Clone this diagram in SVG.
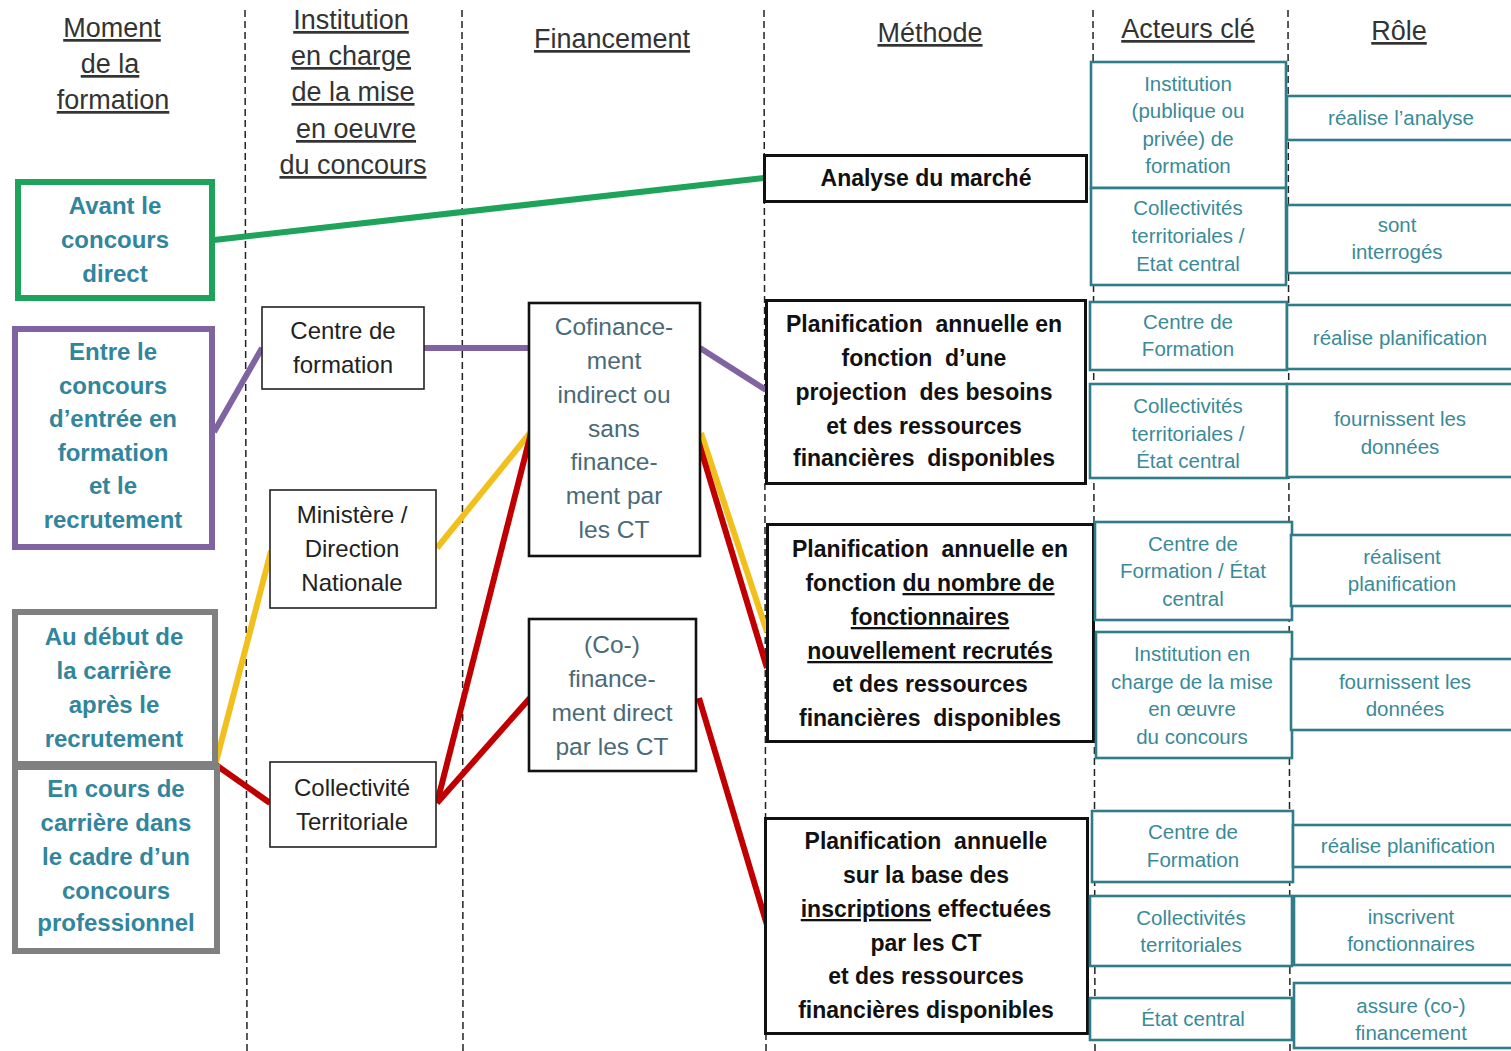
<svg xmlns="http://www.w3.org/2000/svg" width="1511" height="1051" viewBox="0 0 1511 1051">
<style>
text{font-family:"Liberation Sans",Arial,sans-serif;text-anchor:middle}
.hd{font-size:27px;fill:#333;text-decoration:underline}
.lt{font-size:24px;font-weight:bold;fill:#31859c}
.ib{font-size:24px;fill:#222}
.fb{font-size:24.5px;fill:#4a6a78}
.mb{font-size:23px;font-weight:bold;fill:#111}
.ac{font-size:20.5px;fill:#3a8a98}
.u{text-decoration:underline}
.col{stroke:#222;stroke-width:1.5;stroke-dasharray:7 4;fill:none}
.bx{fill:#fff;stroke:#222;stroke-width:1.6}
.fbx{fill:#fff;stroke:#111;stroke-width:2.6}
.mbx{fill:#fff;stroke:#111;stroke-width:3}
.abx{fill:#fff;stroke:#2e7d89;stroke-width:2.6}
.cn{fill:none;stroke-width:6;stroke-linecap:butt}
</style>
<rect width="1511" height="1051" fill="#fff"/>
<g id="columns">
<line class="col" x1="245" y1="10" x2="247" y2="1051"/>
<line class="col" x1="462" y1="10" x2="463" y2="1051"/>
<line class="col" x1="764" y1="10" x2="766" y2="1051"/>
<line class="col" x1="1093" y1="10" x2="1095" y2="1051"/>
<line class="col" x1="1288" y1="10" x2="1290" y2="1051"/>
</g>
<g id="headers">
<text class="hd" x="112" y="37">Moment</text>
<text class="hd" x="110" y="73">de la</text>
<text class="hd" x="113" y="109">formation</text>
<text class="hd" x="351" y="29">Institution</text>
<text class="hd" x="351" y="65">en charge</text>
<text class="hd" x="353" y="101">de la mise</text>
<text class="hd" x="356" y="138">en oeuvre</text>
<text class="hd" x="353" y="174">du concours</text>
<text class="hd" x="612" y="48">Financement</text>
<text class="hd" x="930" y="42">Méthode</text>
<text class="hd" x="1188" y="38">Acteurs clé</text>
<text class="hd" x="1399" y="40">Rôle</text>
</g>
<g id="connectors">
<line class="cn" stroke="#1ea35a" x1="214" y1="240" x2="764" y2="178"/>
<line class="cn" stroke="#8064a2" x1="214" y1="432" x2="262" y2="348"/>
<line class="cn" stroke="#8064a2" x1="424" y1="348" x2="529" y2="348"/>
<line class="cn" stroke="#8064a2" x1="700" y1="348" x2="766" y2="390"/>
<line class="cn" stroke="#f2c01c" x1="216" y1="762" x2="271" y2="551"/>
<line class="cn" stroke="#f2c01c" x1="437" y1="548" x2="530" y2="433"/>
<line class="cn" stroke="#f2c01c" x1="701" y1="433" x2="767" y2="632"/>
<line class="cn" stroke="#c00000" x1="216" y1="765" x2="270" y2="803"/>
<line class="cn" stroke="#c00000" x1="437" y1="803" x2="531" y2="433"/>
<line class="cn" stroke="#c00000" x1="437" y1="803" x2="530" y2="698"/>
<line class="cn" stroke="#c00000" x1="698" y1="440" x2="767" y2="668"/>
<line class="cn" stroke="#c00000" x1="699" y1="698" x2="767" y2="925"/>
</g>
<g id="moment-avant">
<rect x="18" y="182" width="194" height="116" fill="#fff" stroke="#1ea35a" stroke-width="6"/>
<text class="lt" x="115" y="214">Avant le</text>
<text class="lt" x="115" y="248">concours</text>
<text class="lt" x="115" y="282">direct</text>
</g>
<g id="moment-entre">
<rect x="15" y="329" width="197" height="218" fill="#fff" stroke="#8064a2" stroke-width="6"/>
<text class="lt" x="113" y="360">Entre le</text>
<text class="lt" x="113" y="394">concours</text>
<text class="lt" x="113" y="427">d’entrée en</text>
<text class="lt" x="113" y="461">formation</text>
<text class="lt" x="113" y="494">et le</text>
<text class="lt" x="113" y="528">recrutement</text>
</g>
<g id="moment-debut">
<rect x="15" y="612" width="200" height="152" fill="#fff" stroke="#808080" stroke-width="6"/>
<text class="lt" x="114" y="645">Au début de</text>
<text class="lt" x="114" y="679">la carrière</text>
<text class="lt" x="114" y="713">après le</text>
<text class="lt" x="114" y="747">recrutement</text>
</g>
<g id="moment-encours">
<rect x="15" y="767" width="202" height="184" fill="#fff" stroke="#808080" stroke-width="6"/>
<text class="lt" x="116" y="797">En cours de</text>
<text class="lt" x="116" y="831">carrière dans</text>
<text class="lt" x="116" y="865">le cadre d’un</text>
<text class="lt" x="116" y="899">concours</text>
<text class="lt" x="116" y="931">professionnel</text>
</g>
<g id="inst-centre">
<rect class="bx" x="262" y="307" width="162" height="82"/>
<text class="ib" x="343" y="339">Centre de</text>
<text class="ib" x="343" y="373">formation</text>
</g>
<g id="inst-ministere">
<rect class="bx" x="270" y="490" width="166" height="118"/>
<text class="ib" x="352" y="523">Ministère /</text>
<text class="ib" x="352" y="557">Direction</text>
<text class="ib" x="352" y="591">Nationale</text>
</g>
<g id="inst-collectivite">
<rect class="bx" x="270" y="762" width="166" height="85"/>
<text class="ib" x="352" y="796">Collectivité</text>
<text class="ib" x="352" y="830">Territoriale</text>
</g>
<g id="fin-cofinancement">
<rect class="fbx" x="529" y="303" width="171" height="253"/>
<text class="fb" x="614" y="335">Cofinance-</text>
<text class="fb" x="614" y="369">ment</text>
<text class="fb" x="614" y="403">indirect ou</text>
<text class="fb" x="614" y="437">sans</text>
<text class="fb" x="614" y="470">finance-</text>
<text class="fb" x="614" y="504">ment par</text>
<text class="fb" x="614" y="538">les CT</text>
</g>
<g id="fin-direct">
<rect class="fbx" x="529" y="619" width="167" height="152"/>
<text class="fb" x="612" y="653">(Co-)</text>
<text class="fb" x="612" y="687">finance-</text>
<text class="fb" x="612" y="721">ment direct</text>
<text class="fb" x="612" y="755">par les CT</text>
</g>
<g id="meth-analyse">
<rect class="mbx" x="764.5" y="155.5" width="322" height="46"/>
<text class="mb" x="926" y="186">Analyse du marché</text>
</g>
<g id="meth-projection">
<rect class="mbx" x="766.5" y="300.5" width="319" height="183"/>
<text class="mb" x="924" y="332" xml:space="preserve">Planification  annuelle en</text>
<text class="mb" x="924" y="366" xml:space="preserve">fonction  d’une</text>
<text class="mb" x="924" y="400" xml:space="preserve">projection  des besoins</text>
<text class="mb" x="924" y="434">et des ressources</text>
<text class="mb" x="924" y="466" xml:space="preserve">financières  disponibles</text>
</g>
<g id="meth-nombre">
<rect class="mbx" x="767.5" y="524.5" width="326" height="217"/>
<text class="mb" x="930" y="557" xml:space="preserve">Planification  annuelle en</text>
<text class="mb" x="930" y="591">fonction <tspan class="u">du nombre de</tspan></text>
<text class="mb u" x="930" y="625">fonctionnaires</text>
<text class="mb u" x="930" y="659">nouvellement recrutés</text>
<text class="mb" x="930" y="692">et des ressources</text>
<text class="mb" x="930" y="726" xml:space="preserve">financières  disponibles</text>
</g>
<g id="meth-inscriptions">
<rect class="mbx" x="765.5" y="818.5" width="322" height="215"/>
<text class="mb" x="926" y="849" xml:space="preserve">Planification  annuelle</text>
<text class="mb" x="926" y="883">sur la base des</text>
<text class="mb" x="926" y="917"><tspan class="u">inscriptions</tspan> effectuées</text>
<text class="mb" x="926" y="951">par les CT</text>
<text class="mb" x="926" y="984">et des ressources</text>
<text class="mb" x="926" y="1018">financières disponibles</text>
</g>
<g id="acteur-1">
<rect class="abx" x="1091" y="62" width="195" height="126"/>
<text class="ac" x="1188" y="91">Institution</text>
<text class="ac" x="1188" y="118">(publique ou</text>
<text class="ac" x="1188" y="146">privée)  de</text>
<text class="ac" x="1188" y="173">formation</text>
</g>
<g id="acteur-2">
<rect class="abx" x="1091" y="188" width="195" height="97"/>
<text class="ac" x="1188" y="215">Collectivités</text>
<text class="ac" x="1188" y="243">territoriales /</text>
<text class="ac" x="1188" y="271">Etat central</text>
</g>
<g id="acteur-3">
<rect class="abx" x="1090" y="302" width="197" height="68"/>
<text class="ac" x="1188" y="329">Centre de</text>
<text class="ac" x="1188" y="356">Formation</text>
</g>
<g id="acteur-4">
<rect class="abx" x="1090" y="384" width="197" height="94"/>
<text class="ac" x="1188" y="413">Collectivités</text>
<text class="ac" x="1188" y="441">territoriales /</text>
<text class="ac" x="1188" y="468">État central</text>
</g>
<g id="acteur-5">
<rect class="abx" x="1095" y="522" width="197" height="98"/>
<text class="ac" x="1193" y="551">Centre de</text>
<text class="ac" x="1193" y="578">Formation / État</text>
<text class="ac" x="1193" y="606">central</text>
</g>
<g id="acteur-6">
<rect class="abx" x="1096" y="632" width="196" height="126"/>
<text class="ac" x="1192" y="661">Institution en</text>
<text class="ac" x="1192" y="689">charge de la mise</text>
<text class="ac" x="1192" y="716">en œuvre</text>
<text class="ac" x="1192" y="744">du concours</text>
</g>
<g id="acteur-7">
<rect class="abx" x="1092" y="811" width="201" height="71"/>
<text class="ac" x="1193" y="839">Centre de</text>
<text class="ac" x="1193" y="867">Formation</text>
</g>
<g id="acteur-8">
<rect class="abx" x="1090" y="896" width="202" height="70"/>
<text class="ac" x="1191" y="925">Collectivités</text>
<text class="ac" x="1191" y="952">territoriales</text>
</g>
<g id="acteur-9">
<rect class="abx" x="1090" y="998" width="202" height="42"/>
<text class="ac" x="1193" y="1026">État central</text>
</g>
<g id="role-1">
<rect class="abx" x="1287" y="96" width="240" height="44"/>
<text class="ac" x="1401" y="125">réalise l’analyse</text>
</g>
<g id="role-2">
<rect class="abx" x="1287" y="205" width="240" height="68"/>
<text class="ac" x="1397" y="232">sont</text>
<text class="ac" x="1397" y="259">interrogés</text>
</g>
<g id="role-3">
<rect class="abx" x="1287" y="305" width="240" height="64"/>
<text class="ac" x="1400" y="345">réalise planification</text>
</g>
<g id="role-4">
<rect class="abx" x="1287" y="384" width="240" height="93"/>
<text class="ac" x="1400" y="426">fournissent les</text>
<text class="ac" x="1400" y="454">données</text>
</g>
<g id="role-5">
<rect class="abx" x="1291" y="535" width="240" height="71"/>
<text class="ac" x="1402" y="564">réalisent</text>
<text class="ac" x="1402" y="591">planification</text>
</g>
<g id="role-6">
<rect class="abx" x="1291" y="659" width="240" height="71"/>
<text class="ac" x="1405" y="689">fournissent les</text>
<text class="ac" x="1405" y="716">données</text>
</g>
<g id="role-7">
<rect class="abx" x="1293" y="825" width="240" height="42"/>
<text class="ac" x="1408" y="853">réalise planification</text>
</g>
<g id="role-8">
<rect class="abx" x="1294" y="896" width="240" height="69"/>
<text class="ac" x="1411" y="924">inscrivent</text>
<text class="ac" x="1411" y="951">fonctionnaires</text>
</g>
<g id="role-9">
<rect class="abx" x="1294" y="983" width="240" height="65"/>
<text class="ac" x="1411" y="1013">assure (co-)</text>
<text class="ac" x="1411" y="1040">financement</text>
</g>
</svg>
